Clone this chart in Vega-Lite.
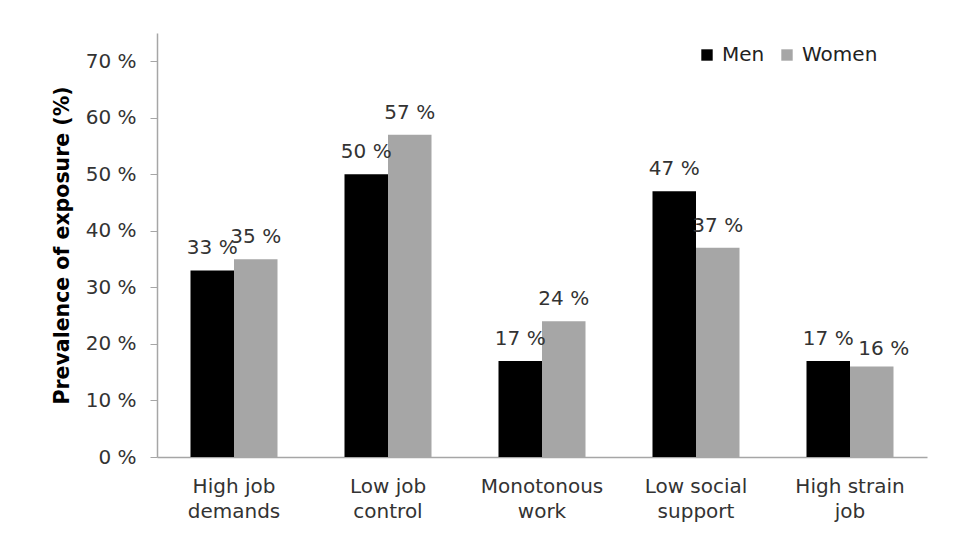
{
  "$schema": "https://vega.github.io/schema/vega-lite/v6.json",
  "width": 770,
  "height": 424,
  "autosize": {"type": "none"},
  "padding": {"left": 157, "top": 33, "right": 34, "bottom": 100},
  "background": "white",
  "config": {
    "view": {"stroke": null},
    "font": "DejaVu Sans",
    "axis": {"labelFont": "DejaVu Sans", "titleFont": "DejaVu Sans"}
  },
  "data": {
    "values": [
      {"category": "High job|demands", "sex": "Men", "value": 33},
      {"category": "High job|demands", "sex": "Women", "value": 35},
      {"category": "Low job|control", "sex": "Men", "value": 50},
      {"category": "Low job|control", "sex": "Women", "value": 57},
      {"category": "Monotonous|work", "sex": "Men", "value": 17},
      {"category": "Monotonous|work", "sex": "Women", "value": 24},
      {"category": "Low social|support", "sex": "Men", "value": 47},
      {"category": "Low social|support", "sex": "Women", "value": 37},
      {"category": "High strain|job", "sex": "Men", "value": 17},
      {"category": "High strain|job", "sex": "Women", "value": 16}
    ]
  },
  "transform": [{"calculate": "datum.value + ' %'", "as": "label"}],
  "encoding": {
    "x": {
      "field": "category",
      "type": "nominal",
      "sort": null,
      "scale": {"paddingInner": 0.435, "paddingOuter": 0.2175},
      "axis": {
        "title": null,
        "labelAngle": 0,
        "labelExpr": "split(datum.label, '|')",
        "labelFontSize": 20,
        "labelColor": "#333333",
        "labelPadding": 19,
        "labelLineHeight": 25,
        "ticks": false,
        "domainColor": "#a6a6a6",
        "domainWidth": 1.5,
        "labelLimit": 300
      }
    },
    "xOffset": {"field": "sex", "type": "nominal", "sort": ["Men", "Women"], "scale": {"paddingInner": 0}},
    "y": {
      "field": "value",
      "type": "quantitative",
      "scale": {"domain": [0, 75], "nice": false},
      "axis": {
        "title": "Prevalence of exposure (%)",
        "titleFontSize": 20.5,
        "titleFontWeight": "bold",
        "titleColor": "#000000",
        "titlePadding": 13,
        "values": [0, 10, 20, 30, 40, 50, 60, 70],
        "labelExpr": "datum.value + ' %'",
        "labelFontSize": 20,
        "labelColor": "#333333",
        "labelPadding": 14,
        "tickSize": 7,
        "tickColor": "#a6a6a6",
        "domainColor": "#a6a6a6",
        "domainWidth": 1.5,
        "grid": false
      }
    }
  },
  "layer": [
    {
      "mark": {"type": "bar"},
      "encoding": {
        "color": {
          "field": "sex",
          "type": "nominal",
          "sort": ["Men", "Women"],
          "scale": {"domain": ["Men", "Women"], "range": ["#000000", "#a6a6a6"]},
          "legend": {
            "title": null,
            "orient": "none",
            "direction": "horizontal",
            "legendX": 540,
            "legendY": 12,
            "symbolType": "square",
            "symbolSize": 130,
            "symbolStrokeWidth": 0,
            "labelFontSize": 20,
            "labelColor": "#222222",
            "columnPadding": 12,
            "labelOffset": 5
          }
        }
      }
    },
    {
      "transform": [{"filter": "!(datum.category === 'High strain|job' && datum.sex === 'Women')"}],
      "mark": {"type": "text", "baseline": "alphabetic", "dy": -16, "fontSize": 20, "color": "#333333"},
      "encoding": {"text": {"field": "label"}}
    },
    {
      "transform": [{"filter": "datum.category === 'High strain|job' && datum.sex === 'Women'"}],
      "mark": {"type": "text", "baseline": "alphabetic", "dy": -12, "dx": 12, "fontSize": 20, "color": "#333333"},
      "encoding": {"text": {"field": "label"}}
    }
  ]
}
